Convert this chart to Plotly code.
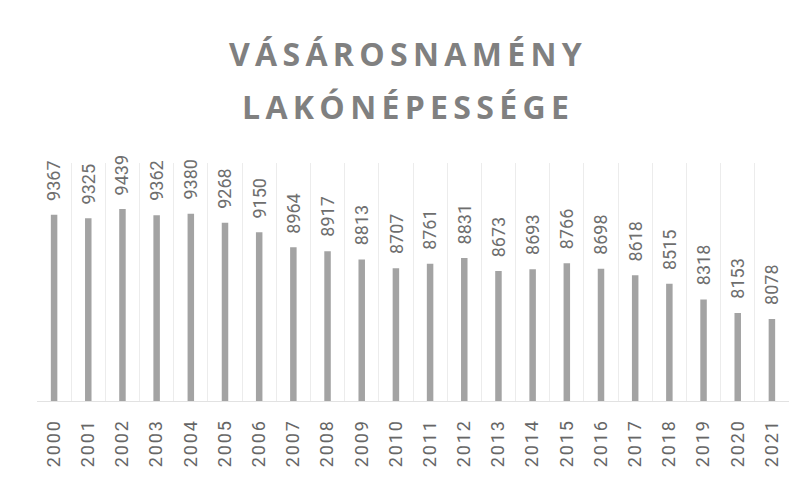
import plotly.graph_objects as go

years = ["2000", "2001", "2002", "2003", "2004", "2005", "2006", "2007", "2008", "2009", "2010",
         "2011", "2012", "2013", "2014", "2015", "2016", "2017", "2018", "2019", "2020", "2021"]
population = [9367, 9325, 9439, 9362, 9380, 9268, 9150, 8964, 8917, 8813, 8707,
              8761, 8831, 8673, 8693, 8766, 8698, 8618, 8515, 8318, 8153, 8078]
title_lines = ["VÁSÁROSNAMÉNY", "LAKÓNÉPESSÉGE"]

HS = "\u200a"
tick_text = [HS.join(list(y)) for y in years]

fig = go.Figure()
fig.add_trace(go.Bar(
    x=years, y=population,
    marker=dict(color="#a3a3a3", line=dict(width=0)),
    width=0.19,
    hoverinfo="x+y",
))

annotations = []
for i, v in enumerate(population):
    annotations.append(dict(
        x=i, y=v, xref="x", yref="y", text=str(v), showarrow=False,
        textangle=-90, yanchor="bottom", xanchor="center", yshift=12,
        font=dict(family="Roboto", size=18, color="#6e6e6e"),
    ))

def spaced(s):
    return "\u2009".join(list(s))

annotations.append(dict(
    x=0.49, y=1.46, xref="paper", yref="paper", text="<b>" + spaced(title_lines[0]) + "</b>",
    showarrow=False, xanchor="center", yanchor="middle",
    font=dict(family="Open Sans", size=32, color="#808080"),
))
annotations.append(dict(
    x=0.49, y=1.237, xref="paper", yref="paper", text="<b>" + spaced(title_lines[1]) + "</b>",
    showarrow=False, xanchor="center", yanchor="middle",
    font=dict(family="Open Sans", size=32, color="#808080"),
))

fig.update_layout(
    width=811, height=479,
    margin=dict(l=37, r=22, t=163, b=78),
    paper_bgcolor="white", plot_bgcolor="white",
    showlegend=False,
    annotations=annotations,
    xaxis=dict(
        type="category",
        range=[-0.5, len(years) - 0.5],
        tickmode="array", tickvals=years, ticktext=tick_text,
        tickangle=-90,
        tickfont=dict(family="Roboto", size=18, color="#666666"),
        showgrid=True, gridcolor="#ececec", gridwidth=1,
        tickson="boundaries", ticks="",
        showline=True, linecolor="#e2e2e2", linewidth=1,
        ticklabelstandoff=12,
    ),
    yaxis=dict(
        range=[7063, 10008],
        showgrid=False, showticklabels=False, zeroline=False, ticks="",
    ),
)

fig.write_html("out.html")
